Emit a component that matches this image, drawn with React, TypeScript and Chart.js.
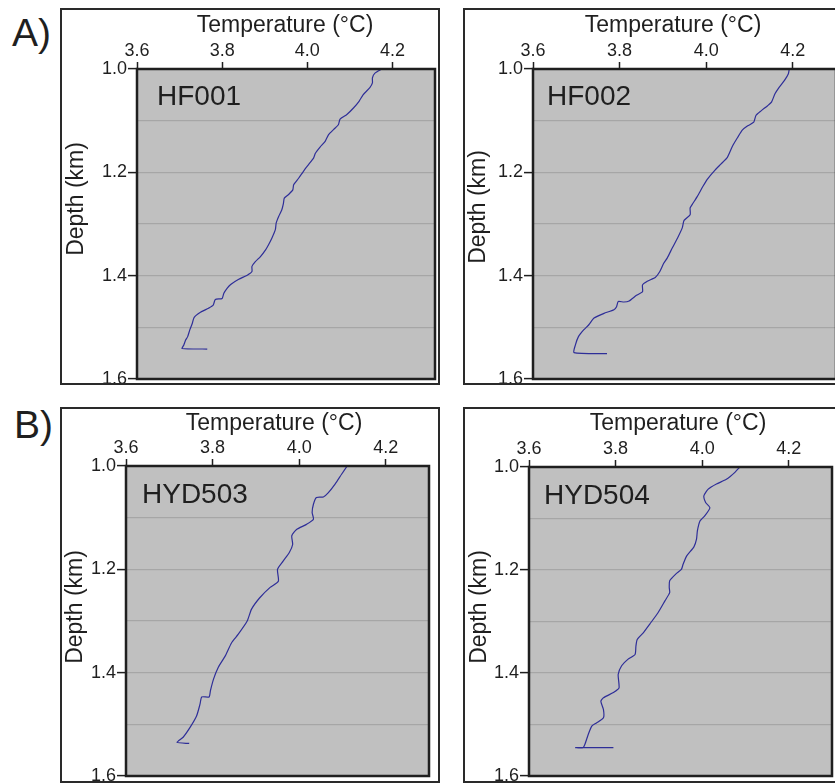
import React, { useEffect, useRef } from "react";
import { Chart, registerables } from "chart.js";

Chart.register(...registerables);

// ---------- data ----------
const hf001Temp = [4.175, 4.159, 4.153, 4.153, 4.147, 4.131, 4.122, 4.109, 4.093, 4.077, 4.073, 4.062, 4.05, 4.042, 4.03, 4.019, 4.015, 4.003, 3.991, 3.98, 3.968, 3.966, 3.956, 3.946, 3.944, 3.94, 3.933, 3.927, 3.925, 3.917, 3.909, 3.902, 3.89, 3.878, 3.87, 3.87, 3.859, 3.839, 3.82, 3.812, 3.804, 3.8, 3.784, 3.779, 3.768, 3.749, 3.734, 3.73, 3.724, 3.719, 3.714, 3.71, 3.706, 3.765];
const hf001Depth = [1.0, 1.008, 1.017, 1.027, 1.036, 1.05, 1.062, 1.075, 1.088, 1.097, 1.108, 1.117, 1.127, 1.14, 1.151, 1.163, 1.172, 1.185, 1.198, 1.211, 1.224, 1.234, 1.243, 1.25, 1.26, 1.273, 1.285, 1.298, 1.311, 1.327, 1.34, 1.35, 1.363, 1.373, 1.382, 1.392, 1.399, 1.407, 1.417, 1.424, 1.434, 1.444, 1.446, 1.457, 1.463, 1.471, 1.481, 1.492, 1.505, 1.518, 1.525, 1.534, 1.541, 1.542];

const hf002Temp = [4.192, 4.19, 4.181, 4.169, 4.159, 4.151, 4.142, 4.127, 4.115, 4.11, 4.096, 4.084, 4.073, 4.061, 4.049, 4.034, 4.019, 4.003, 3.992, 3.98, 3.968, 3.963, 3.963, 3.949, 3.945, 3.934, 3.922, 3.91, 3.902, 3.893, 3.883, 3.864, 3.853, 3.853, 3.839, 3.822, 3.81, 3.797, 3.793, 3.787, 3.764, 3.741, 3.729, 3.717, 3.705, 3.698, 3.695, 3.771];
const hf002Depth = [1.0, 1.009, 1.022, 1.035, 1.048, 1.064, 1.071, 1.081, 1.09, 1.103, 1.11, 1.118, 1.132, 1.149, 1.171, 1.184, 1.197, 1.213, 1.228, 1.246, 1.262, 1.269, 1.282, 1.293, 1.307, 1.327, 1.346, 1.366, 1.376, 1.392, 1.403, 1.411, 1.418, 1.431, 1.438, 1.449, 1.451, 1.45, 1.46, 1.466, 1.473, 1.482, 1.495, 1.505, 1.518, 1.534, 1.549, 1.551];

const hyd503Temp = [4.111, 4.098, 4.083, 4.067, 4.056, 4.04, 4.033, 4.03, 4.033, 4.017, 3.994, 3.983, 3.985, 3.977, 3.963, 3.95, 3.952, 3.933, 3.909, 3.89, 3.88, 3.859, 3.844, 3.829, 3.813, 3.802, 3.795, 3.792, 3.775, 3.771, 3.763, 3.748, 3.732, 3.718, 3.746];
const hyd503Depth = [1.0, 1.016, 1.035, 1.052, 1.06, 1.061, 1.074, 1.09, 1.103, 1.113, 1.123, 1.135, 1.152, 1.168, 1.184, 1.2, 1.223, 1.235, 1.255, 1.277, 1.3, 1.326, 1.342, 1.368, 1.39, 1.413, 1.435, 1.447, 1.447, 1.461, 1.484, 1.506, 1.525, 1.535, 1.537];

const hyd504Temp = [4.087, 4.075, 4.056, 4.033, 4.014, 4.004, 4.008, 4.018, 4.006, 3.995, 3.989, 3.987, 3.981, 3.964, 3.956, 3.952, 3.939, 3.925, 3.924, 3.925, 3.914, 3.898, 3.879, 3.864, 3.85, 3.847, 3.845, 3.829, 3.814, 3.806, 3.808, 3.795, 3.772, 3.766, 3.772, 3.772, 3.756, 3.745, 3.737, 3.729, 3.725, 3.708, 3.795];
const hyd504Depth = [1.0, 1.011, 1.024, 1.033, 1.043, 1.056, 1.069, 1.079, 1.095, 1.105, 1.124, 1.14, 1.155, 1.173, 1.189, 1.199, 1.208, 1.221, 1.234, 1.244, 1.26, 1.283, 1.305, 1.322, 1.335, 1.348, 1.364, 1.373, 1.386, 1.403, 1.429, 1.438, 1.448, 1.455, 1.471, 1.487, 1.497, 1.503, 1.519, 1.539, 1.545, 1.545, 1.545];

const tempMin = 3.6;
const tempMax = 4.3;
const tempStep = 0.2;
const depthMin = 1.0;
const depthMax = 1.6;
const depthStep = 0.1;

const xTitleText = "Temperature (\u00B0C)";
const yTitleText = "Depth (km)";

// ---------- style ----------
const FONT = '"Liberation Sans", Arial, Helvetica, sans-serif';
const INK = "#1f1f1f";
const PLOT_BG = "#c0c0c0";
const GRID = "#a6a6a6";
const LINE = "#2e2e98";
const PAD_R = 14;
const PAD_B = 14;

type Box = { left: number; top: number; width: number; height: number };
type Plot = { left: number; right: number; top: number; bottom: number };

const decorPlugin = {
  id: "decor",
  beforeDraw(chart: any) {
    const { ctx, chartArea: a } = chart;
    ctx.save();
    ctx.fillStyle = PLOT_BG;
    ctx.fillRect(a.left, a.top, a.right - a.left, a.bottom - a.top);
    ctx.restore();
  },
  afterDraw(chart: any, _a: any, o: any) {
    const { ctx, chartArea: a } = chart;
    ctx.save();
    ctx.strokeStyle = INK;
    ctx.lineWidth = 2.5;
    ctx.strokeRect(a.left, a.top, a.right - a.left, a.bottom - a.top);
    ctx.fillStyle = INK;
    // panel name
    ctx.font = `28px ${FONT}`;
    ctx.textAlign = "left";
    ctx.textBaseline = "alphabetic";
    ctx.fillText(o.name, o.nameX - o.ox, o.nameY - o.oy);
    // x title
    ctx.font = `23px ${FONT}`;
    ctx.textAlign = "center";
    ctx.fillText(o.xTitle, o.xTitleX - o.ox, o.xTitleY - o.oy);
    // y title
    ctx.translate(o.yTitleX - o.ox, o.yTitleY - o.oy);
    ctx.rotate(-Math.PI / 2);
    ctx.fillText(o.yTitle, 0, 0);
    ctx.restore();
  },
};

type PanelProps = {
  name: string;
  temps: number[];
  depths: number[];
  box: Box;
  plot: Plot;
  nameAt: [number, number];
  xTitleAt: [number, number];
  yTitleAt: [number, number];
};

function Panel(p: PanelProps) {
  const ref = useRef<HTMLCanvasElement | null>(null);
  const innerLeft = p.box.left + 2;
  const innerTop = p.box.top + 2;
  const cw = p.plot.right + PAD_R - innerLeft;
  const ch = p.plot.bottom + PAD_B - innerTop;

  useEffect(() => {
    if (!ref.current) return;
    const yAxisW = p.plot.left - innerLeft;
    const xAxisH = p.plot.top - innerTop;
    const n = Math.min(p.temps.length, p.depths.length);
    const pts = [];
    for (let i = 0; i < n; i++) pts.push({ x: p.temps[i], y: p.depths[i] });
    const isMajor = (v: number) => Math.round(v * 10) % 2 === 0;
    const chart = new Chart(ref.current, {
      type: "scatter",
      data: {
        datasets: [
          {
            data: pts,
            showLine: true,
            borderColor: LINE,
            backgroundColor: LINE,
            borderWidth: 1.2,
            pointRadius: 0,
            tension: 0.2,
            fill: false,
          } as any,
        ],
      },
      options: {
        animation: false,
        responsive: false,
        maintainAspectRatio: false,
        events: [],
        layout: { padding: { left: 0, top: 0, right: PAD_R, bottom: PAD_B } },
        plugins: {
          legend: { display: false },
          tooltip: { enabled: false },
          decor: {
            name: p.name,
            nameX: p.nameAt[0],
            nameY: p.nameAt[1],
            xTitle: xTitleText,
            xTitleX: p.xTitleAt[0],
            xTitleY: p.xTitleAt[1],
            yTitle: yTitleText,
            yTitleX: p.yTitleAt[0],
            yTitleY: p.yTitleAt[1],
            ox: innerLeft,
            oy: innerTop,
          },
        } as any,
        scales: {
          x: {
            type: "linear",
            position: "top",
            min: tempMin,
            max: tempMax,
            afterFit: (s: any) => {
              s.height = xAxisH;
            },
            ticks: {
              stepSize: tempStep,
              includeBounds: false,
              padding: 0,
              color: INK,
              font: { family: FONT, size: 18 },
              callback: (v: any) => Number(v).toFixed(1),
            },
            grid: {
              drawOnChartArea: false,
              drawTicks: true,
              tickLength: 7,
              tickColor: INK,
              tickWidth: 1.5,
            },
            border: { display: false },
          },
          y: {
            type: "linear",
            reverse: true,
            min: depthMin,
            max: depthMax,
            afterFit: (s: any) => {
              s.width = yAxisW;
            },
            ticks: {
              stepSize: depthStep,
              autoSkip: false,
              padding: 1,
              color: INK,
              font: { family: FONT, size: 18 },
              callback: (v: any) => (isMajor(Number(v)) ? Number(v).toFixed(1) : ""),
            },
            grid: {
              color: GRID,
              lineWidth: 1.2,
              drawTicks: true,
              tickLength: 9,
              tickWidth: 1.5,
              tickColor: (c: any) => (c.tick && isMajor(c.tick.value) ? INK : "rgba(0,0,0,0)"),
            },
            border: { display: false },
          },
        },
      } as any,
      plugins: [decorPlugin as any],
    });
    return () => chart.destroy();
  }, []);

  return (
    <div
      style={{
        position: "absolute",
        left: p.box.left,
        top: p.box.top,
        width: p.box.width,
        height: p.box.height,
        border: "2px solid #2a2a2a",
        boxSizing: "border-box",
        overflow: "hidden",
        background: "#fff",
      }}
    >
      <canvas
        ref={ref}
        width={cw}
        height={ch}
        style={{ position: "absolute", left: 0, top: 0, width: cw, height: ch, display: "block" }}
      />
    </div>
  );
}

const letterStyle: React.CSSProperties = {
  position: "absolute",
  fontFamily: FONT,
  fontSize: 39,
  lineHeight: 1,
  color: INK,
};

export default function App() {
  return (
    <div
      style={{
        position: "fixed",
        left: 0,
        top: 0,
        width: 835,
        height: 783,
        overflow: "hidden",
        background: "#fff",
      }}
    >
      <div style={{ ...letterStyle, left: 12, top: 13 }}>A)</div>
      <div style={{ ...letterStyle, left: 14, top: 405 }}>B)</div>
      <Panel
        name="HF001"
        temps={hf001Temp}
        depths={hf001Depth}
        box={{ left: 60, top: 8, width: 380, height: 377 }}
        plot={{ left: 137, right: 435, top: 69, bottom: 379 }}
        nameAt={[157, 105]}
        xTitleAt={[285, 32]}
        yTitleAt={[83, 199]}
      />
      <Panel
        name="HF002"
        temps={hf002Temp}
        depths={hf002Depth}
        box={{ left: 463, top: 8, width: 440, height: 377 }}
        plot={{ left: 533, right: 836, top: 69, bottom: 379 }}
        nameAt={[547, 105]}
        xTitleAt={[673, 32]}
        yTitleAt={[485, 207]}
      />
      <Panel
        name="HYD503"
        temps={hyd503Temp}
        depths={hyd503Depth}
        box={{ left: 60, top: 407, width: 380, height: 376 }}
        plot={{ left: 126, right: 429, top: 466, bottom: 776 }}
        nameAt={[142, 503]}
        xTitleAt={[274, 430]}
        yTitleAt={[82, 607]}
      />
      <Panel
        name="HYD504"
        temps={hyd504Temp}
        depths={hyd504Depth}
        box={{ left: 463, top: 407, width: 440, height: 376 }}
        plot={{ left: 529, right: 832, top: 467, bottom: 776 }}
        nameAt={[544, 504]}
        xTitleAt={[678, 430]}
        yTitleAt={[486, 607]}
      />
    </div>
  );
}
